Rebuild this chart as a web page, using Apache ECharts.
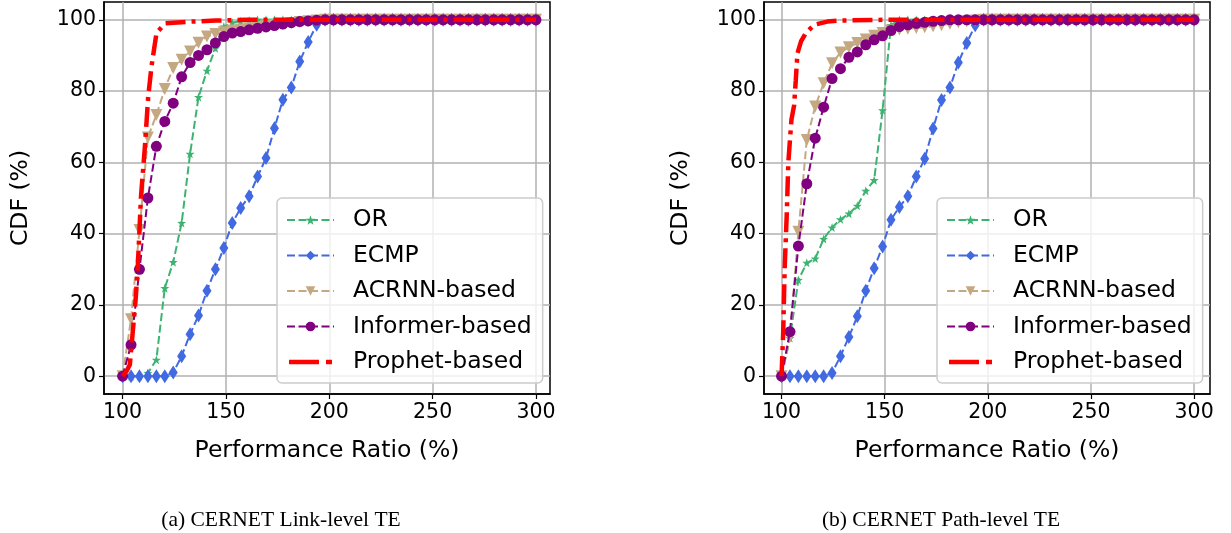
<!DOCTYPE html>
<html>
<head>
<meta charset="utf-8">
<script src="https://cdn.jsdelivr.net/npm/echarts@6/dist/echarts.min.js"></script>
<style>
html,body{margin:0;padding:0;background:#fff;}
#chart{width:1231px;height:533px;}
</style>
</head>
<body>
<div id="chart"></div>
<script>
// ---- data ----
const seriesNames = ['OR', 'ECMP', 'ACRNN-based', 'Informer-based', 'Prophet-based'];
const xTicks = [100, 150, 200, 250, 300];
const yTicks = [0, 20, 40, 60, 80, 100];
const captions = ['(a) CERNET Link-level TE', '(b) CERNET Path-level TE'];
const xLabel = 'Performance Ratio (%)';
const yLabel = 'CDF (%)';

const xs = [100,104.08,108.16,112.24,116.33,120.41,124.49,128.57,132.65,136.73,140.82,144.9,148.98,153.06,157.14,161.22,165.31,169.39,173.47,177.55,181.63,185.71,189.8,193.88,197.96,202.04,206.12,210.2,214.29,218.37,222.45,226.53,230.61,234.69,238.78,242.86,246.94,251.02,255.1,259.18,263.27,267.35,271.43,275.51,279.59,283.67,287.76,291.84,295.92,300];

// (a) Link-level
const orLink = [0,0,0,0.9,4.6,24.7,32,43,62.4,78.3,85.7,92,98.1,99.2,99.6,99.8,100,100,100,100,100,100,100,100,100,100,100,100,100,100,100,100,100,100,100,100,100,100,100,100,100,100,100,100,100,100,100,100,100,100];
const ecmpLink = [0,0,0,0,0,0,1,5.6,11.8,17,24,30,36,43,47.2,50.5,56,61.2,69.6,77.6,81,88.3,93.8,98.6,100,100,100,100,100,100,100,100,100,100,100,100,100,100,100,100,100,100,100,100,100,100,100,100,100,100];
const acrnnLink = [0,16,41,67,73.3,80.6,86.5,88.8,91.1,93.6,95.3,96,96.5,97,97.3,97.6,97.9,98.2,98.5,98.8,99.1,99.4,99.6,99.8,100,100,100,100,100,100,100,100,100,100,100,100,100,100,100,100,100,100,100,100,100,100,100,100,100,100];
const informerLink = [0,8.8,30,50,64.5,71.5,76.6,84,88,90,91.6,93.5,95.3,96.3,96.7,97.2,97.6,98,98.4,98.8,99.2,99.5,99.7,99.9,100,100,100,100,100,100,100,100,100,100,100,100,100,100,100,100,100,100,100,100,100,100,100,100,100,100];
const prophetLinkX = [100,102,103.5,105,106.3,107.3,108.9,110.8,112.4,114,116.4,120.5,133,145,160,300];
const prophetLinkY = [0,1.5,3.2,13,21.5,30,50.4,64.5,78.5,87,96.3,99,99.5,99.8,100,100];

// (b) Path-level
const orPath = [0,10.7,27,31.8,33,38.5,41.7,44,45.6,47.8,52,55,74.6,98.5,100,100,100,100,100,100,100,100,100,100,100,100,100,100,100,100,100,100,100,100,100,100,100,100,100,100,100,100,100,100,100,100,100,100,100,100];
const ecmpPath = [0,0,0,0,0,0,0.9,5.6,11,16.8,24,30.3,36.4,43.9,47.5,50.5,56,61,69.5,77.5,81,88,93.5,98.5,100,100,100,100,100,100,100,100,100,100,100,100,100,100,100,100,100,100,100,100,100,100,100,100,100,100];
const acrnnPath = [0,11,40.5,66.3,75.7,82.2,87.8,90.8,92.3,93.5,94.5,95.5,96.3,97,97.3,97.5,97.7,97.9,98.2,98.5,98.9,99.3,99.6,99.8,100,100,100,100,100,100,100,100,100,100,100,100,100,100,100,100,100,100,100,100,100,100,100,100,100,100];
const informerPath = [0,12.5,36.5,54,66.8,75.5,83.5,86.3,89.5,91,93,94.4,95.5,97,98.1,98.6,99,99.3,99.6,99.8,100,100,100,100,100,100,100,100,100,100,100,100,100,100,100,100,100,100,100,100,100,100,100,100,100,100,100,100,100,100];
const prophetPathX = [100,100.8,101.5,102.5,103.3,104.8,106.1,106.9,107.7,109.5,111.8,115.8,122.2,128.6,150,300];
const prophetPathY = [0,12,30,45,60,72,76,83,90.6,94,96.3,98.6,99.5,99.8,100,100];

// ---- styling ----
const FONT = 'DejaVu Sans';
const colors = ['#3cb371', '#4169e1', '#c4a882', '#800080', '#ff0000'];
const starPath = 'path://M0,-10 L2.35,-3.24 L9.51,-3.09 L3.8,1.24 L5.88,8.09 L0,4 L-5.88,8.09 L-3.8,1.24 L-9.51,-3.09 L-2.35,-3.24 Z';
const markers = [
  {symbol: starPath, symbolSize: 9},
  {symbol: 'diamond', symbolSize: [9, 14]},
  {symbol: 'triangle', symbolSize: 12, symbolRotate: 180},
  {symbol: 'circle', symbolSize: 11},
  {symbol: 'none', symbolSize: 0}
];
const prophetIcon = 'path://M0,0 M43,12 M0,3.7 H30 V8.3 H0 Z M37,3.7 H43 V8.3 H37 Z';

const grids = [
  {left: 104, top: 2, width: 446, height: 392},
  {left: 764, top: 2, width: 446, height: 392}
];
const xRanges = [[91, 306.8], [91.5, 307.7]];
const captionX = [281, 941];

function pairs(xArr, yArr) { return xArr.map((x, i) => [x, yArr[i]]); }

const plotData = [
  [orLink, ecmpLink, acrnnLink, informerLink, pairs(prophetLinkX, prophetLinkY)],
  [orPath, ecmpPath, acrnnPath, informerPath, pairs(prophetPathX, prophetPathY)]
];

const series = [];
plotData.forEach((arrs, g) => {
  arrs.forEach((arr, k) => {
    const isProphet = k === 4;
    series.push({
      name: seriesNames[k],
      type: 'line',
      xAxisIndex: g,
      yAxisIndex: g,
      data: isProphet ? arr : pairs(xs, arr),
      symbol: markers[k].symbol,
      symbolSize: markers[k].symbolSize,
      symbolRotate: markers[k].symbolRotate || 0,
      showSymbol: !isProphet,
      showAllSymbol: true,
      animation: false,
      z: 2 + k,
      itemStyle: {color: colors[k], borderWidth: 0},
      lineStyle: isProphet
        ? {color: colors[k], width: 4.5, type: [20, 6, 4, 6]}
        : {color: colors[k], width: 2, type: [8, 3.5]}
    });
  });
});

function xAxisOf(g) {
  return {
    type: 'value', gridIndex: g, min: xRanges[g][0], max: xRanges[g][1],
    name: xLabel, nameLocation: 'middle', nameGap: 45,
    nameTextStyle: {fontSize: 23.5, fontFamily: FONT, color: '#000'},
    axisLine: {show: true, onZero: false, lineStyle: {color: '#000', width: 1.5}},
    axisTick: {show: true, customValues: xTicks, length: 5, lineStyle: {color: '#000', width: 1.2}},
    axisLabel: {customValues: xTicks, fontSize: 20.5, fontFamily: FONT, color: '#000', margin: 8},
    splitLine: {show: true, customValues: xTicks, lineStyle: {color: '#b0b0b0', width: 1.5}}
  };
}
function yAxisOf(g) {
  return {
    type: 'value', gridIndex: g, min: -5, max: 105,
    name: yLabel, nameLocation: 'middle', nameGap: 71, nameRotate: 90,
    nameTextStyle: {fontSize: 23.5, fontFamily: FONT, color: '#000'},
    axisLine: {show: true, onZero: false, lineStyle: {color: '#000', width: 1.5}},
    axisTick: {show: true, customValues: yTicks, length: 5, lineStyle: {color: '#000', width: 1.2}},
    axisLabel: {customValues: yTicks, fontSize: 20.5, fontFamily: FONT, color: '#000', margin: 8},
    splitLine: {show: true, customValues: yTicks, lineStyle: {color: '#b0b0b0', width: 1.5}}
  };
}

function legendOf(g) {
  return {
    orient: 'vertical',
    left: g === 0 ? 277 : 937,
    top: 198,
    data: seriesNames.map((n, k) => k === 4 ? {name: n, icon: prophetIcon} : {name: n}),
    itemWidth: 47,
    itemHeight: 12,
    itemGap: 9.5,
    padding: [9, 11, 8, 9],
    backgroundColor: 'rgba(255,255,255,0.8)',
    borderColor: '#cccccc',
    borderWidth: 1.5,
    borderRadius: 5,
    selectedMode: false,
    textStyle: {fontSize: 23.5, fontFamily: FONT, color: '#000', lineHeight: 26, padding: [0, 0, 0, 14]}
  };
}

const option = {
  backgroundColor: '#fff',
  animation: false,
  grid: grids.map(g => Object.assign({show: true, borderColor: '#000', borderWidth: 1.5, backgroundColor: 'transparent', containLabel: false}, g)),
  xAxis: [xAxisOf(0), xAxisOf(1)],
  yAxis: [yAxisOf(0), yAxisOf(1)],
  legend: [legendOf(0), legendOf(1)],
  graphic: captions.map((c, i) => ({
    type: 'text', x: captionX[i], y: 520,
    style: {text: c, font: '21.5px "Liberation Serif"', fill: '#000', textAlign: 'center', textVerticalAlign: 'middle'}
  })),
  series: series
};

const chart = echarts.init(document.getElementById('chart'), null, {renderer: 'canvas'});
chart.setOption(option);
</script>
</body>
</html>
